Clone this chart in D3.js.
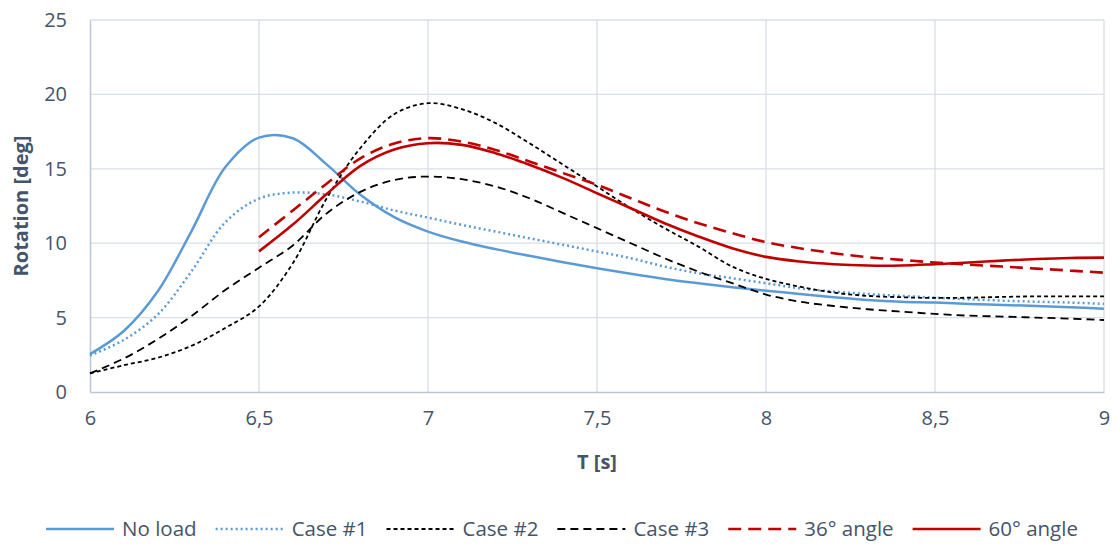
<!DOCTYPE html>
<html><head><meta charset="utf-8">
<script src="https://cdn.jsdelivr.net/npm/d3@7"></script>
<style>
html,body{margin:0;padding:0;background:#fff;}
svg{display:block;font-family:"Open Sans",sans-serif;}
</style></head>
<body><svg id="c" width="1118" height="547"></svg>
<script>
// ---- data ----
const xTicks = [6, 6.5, 7, 7.5, 8, 8.5, 9];
const xTickLabels = ["6", "6,5", "7", "7,5", "8", "8,5", "9"];
const yTicks = [0, 5, 10, 15, 20, 25];
const seriesNames = ["No load", "Case #1", "Case #2", "Case #3", "36° angle", "60° angle"];

// T [s], step 0.1
const tFull = [6.0, 6.1, 6.2, 6.3, 6.4, 6.5, 6.6, 6.7, 6.8, 6.9,
               7.0, 7.1, 7.2, 7.3, 7.4, 7.5, 7.6, 7.7, 7.8, 7.9,
               8.0, 8.1, 8.2, 8.3, 8.4, 8.5, 8.6, 8.7, 8.8, 8.9, 9.0];
const tHalf = [6.5, 6.6, 6.7, 6.8, 6.9,
               7.0, 7.1, 7.2, 7.3, 7.4, 7.5, 7.6, 7.7, 7.8, 7.9,
               8.0, 8.1, 8.2, 8.3, 8.4, 8.5, 8.6, 8.7, 8.8, 8.9, 9.0];

const noLoad = [2.55, 4.1, 6.75, 10.8, 15.1, 17.1, 17.05, 15.3, 13.25, 11.75,
                10.78, 10.11, 9.6, 9.15, 8.72, 8.32, 7.94, 7.6, 7.31, 7.04,
                6.81, 6.59, 6.37, 6.19, 6.07, 6.01, 5.92, 5.85, 5.78, 5.7, 5.6];
const case1  = [2.45, 3.5, 5.2, 8.1, 11.4, 13.0, 13.4, 13.28, 12.8, 12.2,
                11.72, 11.23, 10.78, 10.33, 9.89, 9.44, 8.99, 8.43, 7.98, 7.65,
                7.31, 6.97, 6.75, 6.59, 6.46, 6.34, 6.23, 6.14, 6.07, 6.01, 5.92];
const case2  = [1.25, 1.8, 2.3, 3.1, 4.3, 5.75, 8.65, 13.0, 16.4, 18.67,
                19.41, 19.01, 18.07, 16.72, 15.27, 13.81, 12.35, 11.01, 9.77, 8.43,
                7.6, 7.08, 6.68, 6.46, 6.37, 6.32, 6.34, 6.39, 6.43, 6.43, 6.43];
const case3  = [1.25, 2.25, 3.55, 5.1, 6.85, 8.35, 9.85, 12.0, 13.45, 14.25,
                14.48, 14.3, 13.81, 13.02, 12.02, 11.01, 10.0, 8.99, 8.09, 7.31,
                6.55, 6.07, 5.78, 5.56, 5.4, 5.25, 5.13, 5.07, 5.0, 4.93, 4.84];
const angle36 = [10.4, 12.2, 14.0, 15.7, 16.7,
                 17.06, 16.83, 16.27, 15.49, 14.71, 13.92, 13.02, 12.13, 11.34, 10.67,
                 10.07, 9.66, 9.33, 9.06, 8.88, 8.7, 8.56, 8.43, 8.29, 8.16, 8.02];
const angle60 = [9.45, 11.25, 13.3, 15.2, 16.3,
                 16.72, 16.61, 16.05, 15.27, 14.37, 13.36, 12.35, 11.34, 10.45, 9.66,
                 9.08, 8.77, 8.59, 8.5, 8.5, 8.59, 8.7, 8.83, 8.94, 9.01, 9.03];

// ---- styles ----
const styles = [
  {color:"#5B9BD5", width:2.5, dash:null},
  {color:"#5B9BD5", width:2.5, dash:"2,3"},
  {color:"#000000", width:1.8, dash:"4,3"},
  {color:"#000000", width:1.8, dash:"8,5"},
  {color:"#C00000", width:2.6, dash:"13,7"},
  {color:"#C00000", width:2.6, dash:null}
];
const series = [
  {name:seriesNames[0], t:tFull, v:noLoad},
  {name:seriesNames[1], t:tFull, v:case1},
  {name:seriesNames[2], t:tFull, v:case2},
  {name:seriesNames[3], t:tFull, v:case3},
  {name:seriesNames[4], t:tHalf, v:angle36},
  {name:seriesNames[5], t:tHalf, v:angle60}
];

const svg = d3.select("#c");
const x = d3.scaleLinear().domain([6, 9]).range([90, 1104]);
const y = d3.scaleLinear().domain([0, 25]).range([392, 20]);
const textColor = "#44546A";
const fs = 20;

// grid
const g = svg.append("g");
g.selectAll(".hg").data(yTicks.filter(d=>d>0)).join("line")
  .attr("x1", x(6)).attr("x2", x(9))
  .attr("y1", d=>y(d)).attr("y2", d=>y(d))
  .attr("stroke", "#D9DEE7").attr("stroke-width", 1.3);
g.selectAll(".vg").data(xTicks.filter(d=>d>6)).join("line")
  .attr("x1", d=>x(d)).attr("x2", d=>x(d))
  .attr("y1", y(0)).attr("y2", y(25))
  .attr("stroke", "#D9DEE7").attr("stroke-width", 1.3);

// axes via d3 axis
const xAxis = d3.axisBottom(x).tickValues(xTicks).tickFormat((d,i)=>xTickLabels[i]).tickSize(0).tickPadding(19);
const yAxis = d3.axisLeft(y).tickValues(yTicks).tickSize(0).tickPadding(23);
const gx = svg.append("g").attr("transform", `translate(0,${y(0)})`).call(xAxis);
const gy = svg.append("g").attr("transform", `translate(${x(6)},0)`).call(yAxis);
[gx, gy].forEach(a=>{
  a.select(".domain").attr("stroke", "#BAC5D6").attr("stroke-width", 1.5);
  a.selectAll("text").attr("font-family", "'Open Sans',sans-serif").attr("font-size", fs).attr("fill", textColor);
});

// axis titles
svg.append("text").attr("x", 597).attr("y", 469).attr("text-anchor", "middle")
  .attr("font-size", fs).attr("font-weight", "bold").attr("fill", textColor).text("T [s]");
svg.append("text").attr("transform", "translate(28,206) rotate(-90)").attr("text-anchor", "middle")
  .attr("font-size", fs).attr("font-weight", "bold").attr("fill", textColor).text("Rotation [deg]");

// lines
const line = d3.line().x(d=>x(d[0])).y(d=>y(d[1])).curve(d3.curveCatmullRom.alpha(0.5));
const plot = svg.append("g");
series.forEach((s, i)=>{
  const st = styles[i];
  plot.append("path")
    .datum(s.t.map((t, j)=>[t, s.v[j]]))
    .attr("d", line).attr("fill", "none")
    .attr("stroke", st.color).attr("stroke-width", st.width)
    .attr("stroke-dasharray", st.dash);
});

// legend
const leg = svg.append("g");
const sampleLen = 68, gapText = 8, itemGap = 19, legY = 529;
let items = [];
series.forEach((s, i)=>{
  const gi = leg.append("g");
  const st = styles[i];
  gi.append("line").attr("x1", 0).attr("x2", sampleLen).attr("y1", 0).attr("y2", 0)
    .attr("stroke", st.color).attr("stroke-width", st.width)
    .attr("stroke-dasharray", st.dash);
  const t = gi.append("text").attr("x", sampleLen + gapText).attr("y", 0).attr("dy", "0.35em")
    .attr("font-size", 20.5).attr("fill", textColor).text(s.name);
  const w = sampleLen + gapText + t.node().getComputedTextLength();
  items.push({gi, w});
});
const total = d3.sum(items, d=>d.w) + itemGap*(items.length-1);
let start = 562 - total/2;
items.forEach(it=>{
  it.gi.attr("transform", `translate(${start},${legY})`);
  start += it.w + itemGap;
});
</script>
</body></html>
